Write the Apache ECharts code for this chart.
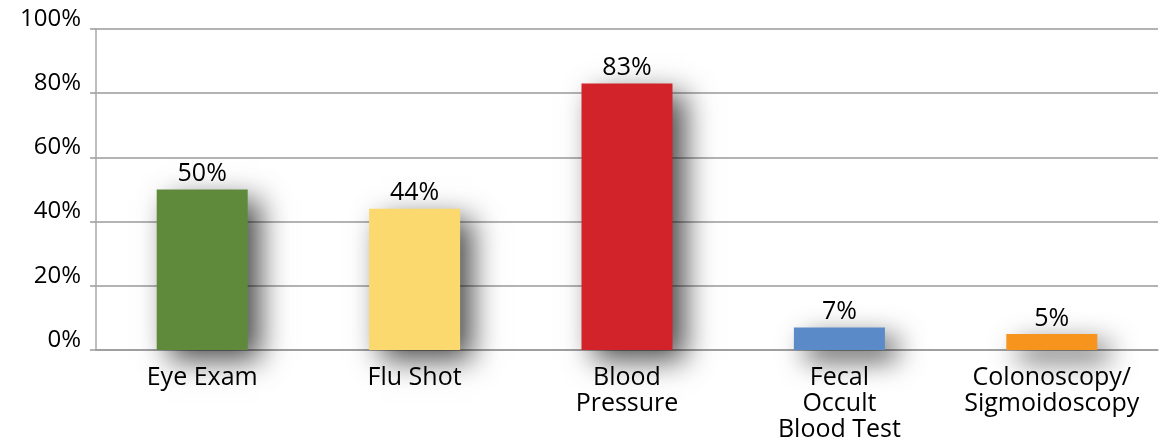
<!DOCTYPE html>
<html>
<head>
<meta charset="utf-8">
<script src="https://cdn.jsdelivr.net/npm/echarts@6/dist/echarts.min.js"></script>
<style>
  html, body { margin: 0; padding: 0; background: #fff; }
  #main { width: 1163px; height: 443px; }
</style>
</head>
<body>
<div id="main"></div>
<script>
var categories = ['Eye Exam', 'Flu Shot', 'Blood\nPressure', 'Fecal\nOccult\nBlood Test', 'Colonoscopy/\nSigmoidoscopy'];
var values = [50, 44, 83, 7, 5];
var yTicks = [0, 20, 40, 60, 80, 100];

var barColors = ['#5f8a3c', '#fbd96e', '#d2232b', '#5b8ac8', '#f7941e'];
var fontFam = '"Open Sans", "Noto Sans", sans-serif';

var chart = echarts.init(document.getElementById('main'));

var option = {
    animation: false,
    grid: { left: 96, right: 5, top: 29, bottom: 93 },
    xAxis: {
        type: 'category',
        data: categories,
        axisLine: { show: true, lineStyle: { color: '#9a9a9c', width: 1.5 } },
        axisTick: { show: false },
        axisLabel: {
            color: '#000',
            fontFamily: fontFam,
            fontSize: 25,
            fontWeight: 500,
            lineHeight: 26,
            margin: 15,
            interval: 0
        }
    },
    yAxis: {
        type: 'value',
        min: yTicks[0],
        max: yTicks[yTicks.length - 1],
        interval: 20,
        axisLine: { show: true, lineStyle: { color: '#a8a8aa', width: 1.5 } },
        axisTick: { show: true, length: 6, lineStyle: { color: '#9a9a9c', width: 1.5 } },
        splitLine: { show: true, lineStyle: { color: '#9a9a9c', width: 1.5 } },
        axisLabel: {
            color: '#000',
            fontFamily: fontFam,
            fontSize: 24,
            fontWeight: 500,
            margin: 15,
            verticalAlign: 'bottom',
            lineHeight: 20,
            formatter: '{value}%'
        }
    },
    series: [{
        type: 'bar',
        barWidth: 91,
        data: values.map(function (v, i) {
            return { value: v, itemStyle: { color: barColors[i] } };
        }),
        itemStyle: {
            shadowColor: 'rgba(0,0,0,0.7)',
            shadowBlur: 28,
            shadowOffsetX: 12,
            shadowOffsetY: 10
        },
        label: {
            show: true,
            position: 'top',
            distance: 3,
            color: '#000',
            fontFamily: fontFam,
            fontSize: 25,
            fontWeight: 500,
            formatter: '{c}%'
        }
    }]
};

chart.setOption(option);
</script>
</body>
</html>
